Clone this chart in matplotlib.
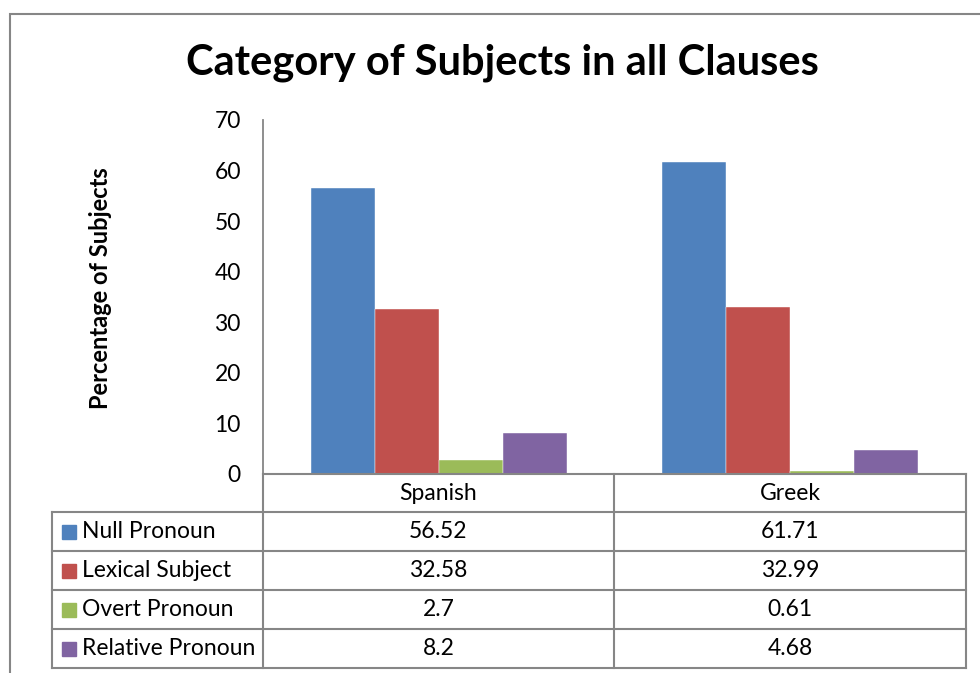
import matplotlib.pyplot as plt
from matplotlib.patches import Rectangle
from matplotlib.lines import Line2D

plt.rcParams['font.family'] = ['Lato', 'DejaVu Sans']

languages = ['Spanish', 'Greek']
series = ['Null Pronoun', 'Lexical Subject', 'Overt Pronoun', 'Relative Pronoun']
values = {
    'Null Pronoun': [56.52, 61.71],
    'Lexical Subject': [32.58, 32.99],
    'Overt Pronoun': [2.7, 0.61],
    'Relative Pronoun': [8.2, 4.68],
}
value_labels = {
    'Null Pronoun': ['56.52', '61.71'],
    'Lexical Subject': ['32.58', '32.99'],
    'Overt Pronoun': ['2.7', '0.61'],
    'Relative Pronoun': ['8.2', '4.68'],
}
colors = ['#4F81BD', '#C0504D', '#9BBB59', '#8064A2']

W, H = 980, 673
fig = plt.figure(figsize=(W / 100, H / 100), dpi=100)


def fx(x):
    return x / W


def fy(y):
    return 1 - y / H


# outer chart frame (cut by the picture on the right and bottom)
fig.patches.append(Rectangle((fx(10), fy(700)), fx(1000) - fx(10), fy(14) - fy(700),
                             transform=fig.transFigure, fill=False,
                             edgecolor='#868686', linewidth=1.5))

left, right, top, bottom = 263, 966, 120, 474
ax = fig.add_axes([fx(left), fy(bottom), fx(right) - fx(left), fy(top) - fy(bottom)])

width = 64 / 351
for i, (name, c) in enumerate(zip(series, colors)):
    xs = [k + (i - 1.5) * width for k in range(len(languages))]
    ax.bar(xs, values[name], width=width, color=c, edgecolor='white',
           linewidth=0.3, zorder=2)

ax.set_xlim(-0.5, 1.5)
ax.set_ylim(0, 70)
ax.set_yticks(range(0, 71, 10))
ax.set_xticks([])
ax.tick_params(axis='y', length=0, pad=16, labelsize=16.5)
for s in ['top', 'right', 'bottom']:
    ax.spines[s].set_visible(False)
ax.spines['left'].set_color('#868686')
ax.spines['left'].set_linewidth(1.3)

fig.text(fx(502), fy(63), 'Category of Subjects in all Clauses', ha='center', va='center',
         fontsize=30, fontweight='bold')
fig.text(fx(101), fy(288), 'Percentage of Subjects', ha='center', va='center',
         rotation=90, fontsize=17, fontweight='bold')

# data table below the plot
grey = '#868686'
rows_y = [474, 512, 551, 590, 629, 668]
col_x = [263, 614, 966]


def hline(y, x0, x1):
    fig.lines.append(Line2D([fx(x0), fx(x1)], [fy(y), fy(y)], transform=fig.transFigure,
                            color=grey, linewidth=1.5))


def vline(x, y0, y1):
    fig.lines.append(Line2D([fx(x), fx(x)], [fy(y0), fy(y1)], transform=fig.transFigure,
                            color=grey, linewidth=1.5))


hline(474, 263, 966)
for y in rows_y[1:]:
    hline(y, 52, 966)
vline(52, 512, 668)
for x in col_x:
    vline(x, 474, 668)

fs = 16.5
for j, lang in enumerate(languages):
    cx = (col_x[j] + col_x[j + 1]) / 2
    fig.text(fx(cx), fy((rows_y[0] + rows_y[1]) / 2), lang, ha='center', va='center',
             fontsize=fs)

for i, (name, c) in enumerate(zip(series, colors)):
    cy = (rows_y[i + 1] + rows_y[i + 2]) / 2
    fig.patches.append(Rectangle((fx(62), fy(cy + 7)), fx(76) - fx(62), fy(cy - 7) - fy(cy + 7),
                                 transform=fig.transFigure, color=c))
    fig.text(fx(82), fy(cy), name, ha='left', va='center', fontsize=fs)
    for j in range(len(languages)):
        cx = (col_x[j] + col_x[j + 1]) / 2
        fig.text(fx(cx), fy(cy), value_labels[name][j], ha='center', va='center',
                 fontsize=fs)

fig.savefig('out.png', dpi=100, facecolor='white')
